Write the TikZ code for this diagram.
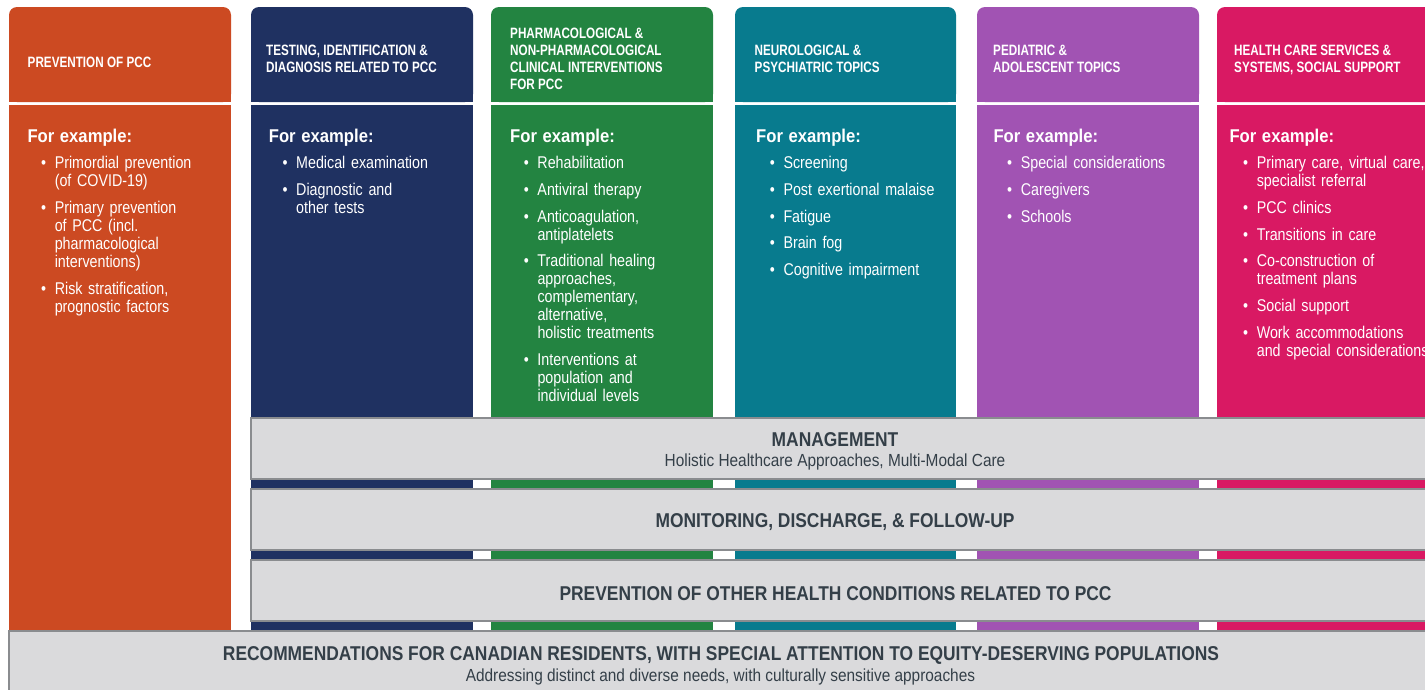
\documentclass[tikz,border=0pt]{standalone}
\usepackage{fontspec}
\setmainfont{Liberation Sans}
% condensed cuts of the same family for the different text roles
\newfontfamily\hdrfam{Liberation Sans}[FakeStretch=0.78]
\newfontfamily\exfam{Liberation Sans}[FakeStretch=0.90]
\newfontfamily\bodyfam{Liberation Sans}[FakeStretch=0.84]
\newfontfamily\bandfam{Liberation Sans}[FakeStretch=0.87]
\newfontfamily\subfam{Liberation Sans}[FakeStretch=0.88]

\definecolor{colA}{HTML}{CC4A22}
\definecolor{colB}{HTML}{1F3161}
\definecolor{colC}{HTML}{238441}
\definecolor{colD}{HTML}{087B8E}
\definecolor{colE}{HTML}{A153B3}
\definecolor{colF}{HTML}{D91963}
\definecolor{bandfill}{HTML}{DADADC}
\definecolor{bandline}{HTML}{8A8C8F}
\definecolor{bandink}{HTML}{343F48}

% "For example:" heading and bullet items of a column body
\newcommand\forex{{\exfam\bfseries\fontsize{18.5}{18}\selectfont For example:}\par}
\newcommand\bul{\par\leftskip=27.3pt\noindent\llap{\textbullet\hspace{8.6pt}}}

\tikzset{
  hdrtext/.style={anchor=west, inner sep=0pt, align=left, text=white,
    font=\hdrfam\bfseries\fontsize{15}{17}\selectfont},
  bodytext/.style={anchor=base west, inner sep=0pt, text width=240pt, text=white,
    font=\bodyfam\fontsize{17}{18}\selectfont,
    execute at begin node={\raggedright\setlength\parskip{8.67pt}\hyphenpenalty=10000}},
  bandbox/.style={fill=bandfill, draw=bandline, line width=1.1pt},
  bandtitle/.style={anchor=base, inner sep=0pt, text=bandink,
    font=\bandfam\bfseries\fontsize{20}{22}\selectfont},
  bandsub/.style={anchor=base, inner sep=0pt, text=bandink,
    font=\subfam\fontsize{17.5}{20}\selectfont},
}

% one coloured column: rounded header (top 7 to 102) and body (105 to 631)
\newcommand\column[3]{%
  \fill[#3, rounded corners=8pt] (#1,7) rectangle (#2,102);
  \fill[#3] (#1,50) rectangle (#2,102);
  \fill[#3] (#1,105) rectangle (#2,631);
}

\begin{document}
\begin{tikzpicture}[x=1pt, y=-1pt]
  \useasboundingbox (0,0) rectangle (1425,689);
  \clip (0,0) rectangle (1425,689);
  \fill[white] (0,0) rectangle (1425,689);

  % columns
  \column{9}{231}{colA}
  \column{251}{473}{colB}
  \column{491}{713}{colC}
  \column{735}{956}{colD}
  \column{977}{1199}{colE}
  \column{1217}{1440}{colF}

  % column headers
  \node[hdrtext] (hA) at (27.5,62.5) {PREVENTION OF PCC};
  \node[hdrtext] (hB) at (266,59) {TESTING, IDENTIFICATION \&\\DIAGNOSIS RELATED TO PCC};
  \node[hdrtext] (hC) at (510,58.5) {PHARMACOLOGICAL \&\\NON-PHARMACOLOGICAL\\CLINICAL INTERVENTIONS\\FOR PCC};
  \node[hdrtext] (hD) at (754.5,59) {NEUROLOGICAL \&\\PSYCHIATRIC TOPICS};
  \node[hdrtext] (hE) at (993,58.8) {PEDIATRIC \&\\ADOLESCENT TOPICS};
  \node[hdrtext] (hF) at (1234,59.5) {HEALTH CARE SERVICES \&\\SYSTEMS, SOCIAL SUPPORT};

  % column bodies
  \node[bodytext] (bA) at (27.3,142.3) {\forex
    \bul Primordial prevention\\(of COVID-19)
    \bul Primary prevention\\of PCC (incl.\\pharmacological\\interventions)
    \bul Risk stratification,\\prognostic factors\par};
  \node[bodytext] (bB) at (268.7,142.3) {\forex
    \bul Medical examination
    \bul Diagnostic and\\other tests\par};
  \node[bodytext] (bC) at (510,142.3) {\forex
    \bul Rehabilitation
    \bul Antiviral therapy
    \bul Anticoagulation,\\antiplatelets
    \bul Traditional healing\\approaches,\\complementary,\\alternative,\\holistic treatments
    \bul Interventions at\\population and\\individual levels\par};
  \node[bodytext] (bD) at (756,142.3) {\forex
    \bul Screening
    \bul Post exertional malaise
    \bul Fatigue
    \bul Brain fog
    \bul Cognitive impairment\par};
  \node[bodytext] (bE) at (993.3,142.3) {\forex
    \bul Special considerations
    \bul Caregivers
    \bul Schools\par};
  \node[bodytext] (bF) at (1229.3,142.3) {\forex
    \bul Primary care, virtual care,\\specialist referral
    \bul PCC clinics
    \bul Transitions in care
    \bul Co-construction of\\treatment plans
    \bul Social support
    \bul Work accommodations\\and special considerations\par};

  % cross-cutting bands
  \path[bandbox] (251,418) rectangle (1440,479);
  \path[bandbox] (251,489) rectangle (1440,550);
  \path[bandbox] (251,560) rectangle (1440,621);
  \path[bandbox] (9,631) rectangle (1440,700);

  \node[bandtitle] (m1) at (835,446.7) {MANAGEMENT};
  \node[bandsub] (m2) at (835,466.7) {Holistic Healthcare Approaches, Multi-Modal Care};
  \node[bandtitle] (f1) at (835,527.7) {MONITORING, DISCHARGE, \& FOLLOW-UP};
  \node[bandtitle] (p1) at (835.5,600) {PREVENTION OF OTHER HEALTH CONDITIONS RELATED TO PCC};
  \node[bandtitle] (r1) at (721,660.7) {RECOMMENDATIONS FOR CANADIAN RESIDENTS, WITH SPECIAL ATTENTION TO EQUITY-DESERVING POPULATIONS};
  \node[bandsub] (r2) at (720.5,681.7) {Addressing distinct and diverse needs, with culturally sensitive approaches};
\end{tikzpicture}
\end{document}
